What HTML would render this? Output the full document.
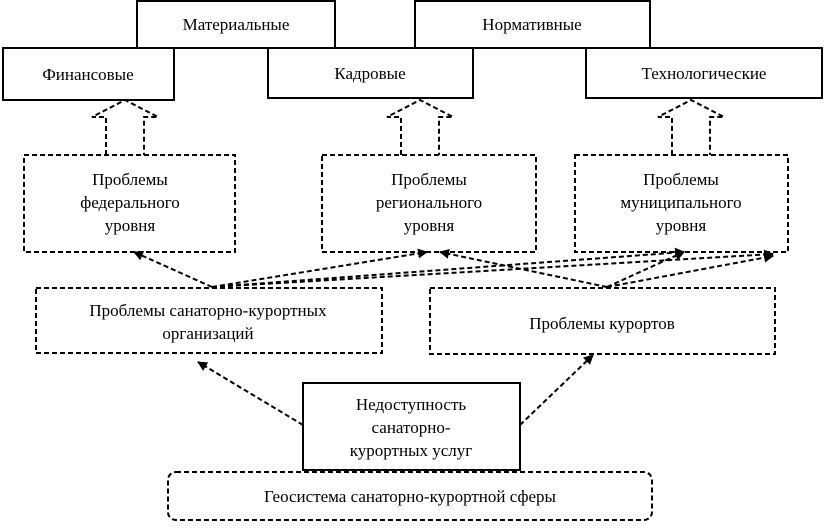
<!DOCTYPE html>
<html><head><meta charset="utf-8"><style>
html,body{margin:0;padding:0;background:#fff;}
svg{display:block;}
text{font-family:"Liberation Serif",serif;font-size:17px;fill:#000;text-anchor:middle;}
</style></head><body>
<svg width="826" height="528" viewBox="0 0 826 528" xmlns="http://www.w3.org/2000/svg">
<defs>
<marker id="ah" markerWidth="10" markerHeight="10" refX="9" refY="5" orient="auto" markerUnits="userSpaceOnUse">
<path d="M0,0 L10,5 L0,10 Z" fill="#000"/>
</marker>
</defs>
<g fill="#fff" stroke="#000" stroke-width="2">
<rect x="137" y="1" width="198" height="47"/>
<rect x="415" y="1" width="235" height="47"/>
<rect x="3" y="48" width="171" height="52"/>
<rect x="268" y="48" width="205" height="50"/>
<rect x="586" y="48" width="236" height="50"/>
</g>
<text x="236" y="30">Материальные</text>
<text x="532" y="30">Нормативные</text>
<text x="88" y="80">Финансовые</text>
<text x="370" y="79">Кадровые</text>
<text x="704" y="79">Технологические</text>

<g fill="none" stroke="#000" stroke-width="2" stroke-dasharray="5,3">
<!-- hollow arrows -->
<path d="M106,155 V117 H92 L125,100 L158,117 H144 V155"/>
<path d="M401,155 V117 H387 L420,100 L453,117 H439 V155"/>
<path d="M672,155 V117 H658 L691,100 L724,117 H710 V155"/>
<!-- dashed boxes -->
<rect x="24" y="155" width="211" height="97"/>
<rect x="322" y="155" width="214" height="97"/>
<rect x="575" y="155" width="213" height="97"/>
<rect x="36" y="288" width="346" height="65"/>
<rect x="430" y="288" width="345" height="66"/>
<rect x="168" y="472" width="484" height="48" rx="8"/>
<!-- connectors -->
<g marker-end="url(#ah)">
<line x1="212" y1="287" x2="134" y2="252"/>
<line x1="212" y1="287" x2="427" y2="252"/>
<line x1="212" y1="287" x2="684" y2="252"/>
<line x1="212" y1="287" x2="773" y2="254"/>
<line x1="607" y1="287" x2="440" y2="252"/>
<line x1="607" y1="287" x2="684" y2="252"/>
<line x1="607" y1="287" x2="773" y2="256"/>
<line x1="303" y1="425" x2="198" y2="362"/>
<line x1="520" y1="425" x2="593" y2="355"/>
</g>
</g>
<rect x="303" y="383" width="217" height="87" fill="#fff" stroke="#000" stroke-width="2"/>

<text x="130" y="185">Проблемы</text>
<text x="130" y="208">федерального</text>
<text x="130" y="231">уровня</text>
<text x="429" y="185">Проблемы</text>
<text x="429" y="208">регионального</text>
<text x="429" y="231">уровня</text>
<text x="681" y="185">Проблемы</text>
<text x="681" y="208">муниципального</text>
<text x="681" y="231">уровня</text>
<text x="208" y="316">Проблемы санаторно-курортных</text>
<text x="208" y="339">организаций</text>
<text x="602" y="329">Проблемы курортов</text>
<text x="411" y="410">Недоступность</text>
<text x="411" y="433">санаторно-</text>
<text x="411" y="456">курортных услуг</text>
<text x="410" y="502">Геосистема санаторно-курортной сферы</text>
</svg>
</body></html>
